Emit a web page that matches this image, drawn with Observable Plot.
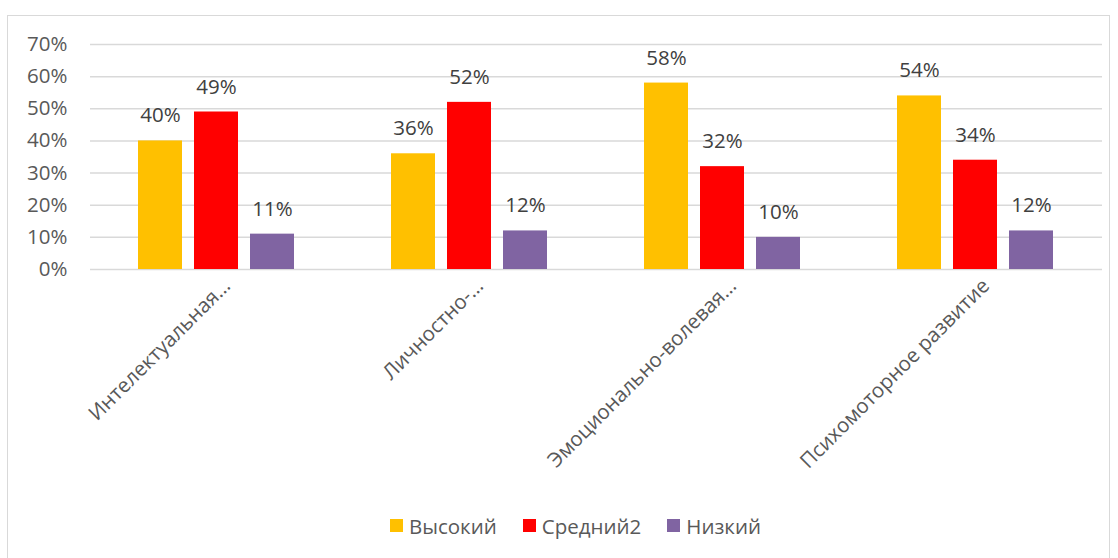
<!DOCTYPE html>
<html><head><meta charset="utf-8">
<script src="https://cdn.jsdelivr.net/npm/d3@7"></script>
<script src="https://cdn.jsdelivr.net/npm/@observablehq/plot@0.6"></script>
<style>
body{margin:0;background:#fff;font-family:"Open Sans",sans-serif;}
#frame{position:absolute;left:7px;top:15px;width:1101px;height:560px;border:1px solid #d9d9d9;}
#chart{position:absolute;left:0;top:0;}
#legend{position:absolute;left:0;top:493px;width:1101px;display:flex;justify-content:center;box-sizing:border-box;padding-left:34px;}
</style></head><body><div id="frame"><div id="chart"></div><div id="legend"></div></div>
<script>
const categories = ["Интелектуальная…","Личностно-…","Эмоционально-волевая…","Психомоторное развитие"];
const series = ["Высокий","Средний2","Низкий"];
const colors = ["#FFC000","#FF0000","#8064A2"];
const vysokiy = [40,36,58,54];
const sredniy = [49,52,32,34];
const nizkiy = [11,12,10,12];
const yTicks = [0,10,20,30,40,50,60,70];

const seriesValues = [vysokiy, sredniy, nizkiy];
const data = categories.flatMap((c,i)=>series.map((s,j)=>({category:c, series:s, value:seriesValues[j][i]})));

const FS = 20.5;
const plot = Plot.plot({
  width:1101, height:490,
  marginLeft:82, marginRight:7, marginTop:28, marginBottom:237,
  style:{fontFamily:"Open Sans", fontSize:FS+"px", color:"#595959", background:"transparent"},
  fx:{domain:categories, padding:0, label:null},
  x:{domain:series, paddingInner:0.21, paddingOuter:0.855, axis:null},
  y:{domain:[0,70], label:null, axis:null},
  color:{domain:series, range:colors},
  marks:[
    Plot.gridY(yTicks,{stroke:"#d9d9d9", strokeOpacity:1, strokeWidth:1.5}),
    Plot.barY(data,{fx:"category", x:"series", y:"value", fill:"series"}),
    Plot.text(data,{fx:"category", x:"series", y:"value", text:d=>d.value+"%", dy:-25, fill:"#404040", fontSize:FS}),
    Plot.axisY(yTicks,{tickFormat:d=>d+"%", tickSize:0, tickPadding:23, label:null, fontSize:FS}),
    Plot.axisFx({anchor:"bottom", tickRotate:-45, tickSize:0, tickPadding:13, dx:10, label:null, fontSize:FS})
  ]
});
document.getElementById("chart").appendChild(plot);

const legend = Plot.legend({color:{domain:series, range:colors}, legend:"swatches", swatchSize:13,
  style:{fontSize:FS+"px", fontFamily:"Open Sans", color:"#595959"}});
legend.style.justifyContent = "center";
const spans = legend.querySelectorAll("span");
spans.forEach((s,i)=>{ s.style.marginRight = i === spans.length-1 ? "0px" : "26px"; });
legend.querySelectorAll("svg").forEach(s=>{ s.style.marginRight = "6px"; });
document.getElementById("legend").appendChild(legend);
</script></body></html>
